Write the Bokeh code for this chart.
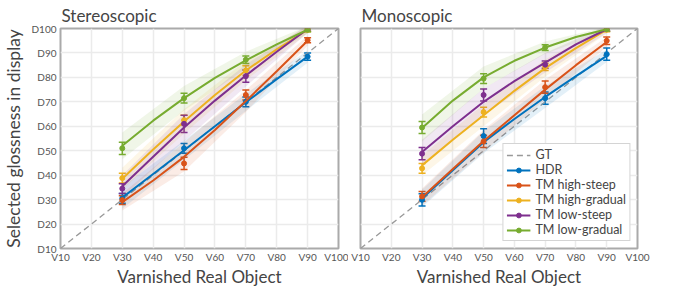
from bokeh.plotting import figure
from bokeh.layouts import row
from bokeh.models import (ColumnDataSource, Whisker, FixedTicker, Legend, LegendItem)
from bokeh.embed import file_html
from bokeh.resources import INLINE

# ---------------- data ----------------
x_pts = [30, 50, 70, 90]
x_fit = [30, 40, 50, 60, 70, 80, 90]
x_tick_vals = [10, 20, 30, 40, 50, 60, 70, 80, 90, 100]
x_tick_labels = ["V10", "V20", "V30", "V40", "V50", "V60", "V70", "V80", "V90", "V100"]
y_tick_labels = ["D10", "D20", "D30", "D40", "D50", "D60", "D70", "D80", "D90", "D100"]

series_names = ["HDR", "TM high-steep", "TM high-gradual", "TM low-steep", "TM low-gradual"]
series_colors = ["#0072BD", "#D95319", "#EDB120", "#7E2F8E", "#77AC30"]

# Stereoscopic
stereo_pts = {
    "HDR":             [30.5, 51.0, 70.0, 88.5],
    "TM high-steep":   [29.8, 44.8, 72.8, 95.2],
    "TM high-gradual": [38.8, 62.5, 82.8, 99.5],
    "TM low-steep":    [34.5, 61.0, 80.5, 99.8],
    "TM low-gradual":  [51.0, 71.5, 87.2, 99.5],
}
stereo_err = {
    "HDR":             [2.0, 2.0, 2.0, 1.5],
    "TM high-steep":   [1.8, 2.5, 2.0, 1.0],
    "TM high-gradual": [2.0, 2.0, 2.0, 0.8],
    "TM low-steep":    [2.0, 3.5, 2.5, 0.8],
    "TM low-gradual":  [2.5, 2.0, 1.5, 0.8],
}
stereo_fit = {
    "HDR":             [30.8, 40.5, 50.2, 60.0, 69.8, 79.3, 88.5],
    "TM high-steep":   [29.0, 37.8, 47.5, 58.5, 70.3, 82.5, 95.0],
    "TM high-gradual": [38.5, 50.5, 62.0, 72.8, 82.8, 91.5, 99.5],
    "TM low-steep":    [35.5, 47.5, 59.5, 70.5, 80.8, 90.5, 99.8],
    "TM low-gradual":  [52.0, 62.3, 71.5, 79.8, 87.0, 93.5, 99.5],
}
stereo_band = {
    "HDR":             [4.5, 4.0, 3.5, 2.5],
    "TM high-steep":   [3.5, 6.0, 4.5, 2.0],
    "TM high-gradual": [4.5, 5.0, 4.0, 1.5],
    "TM low-steep":    [4.5, 5.5, 4.5, 1.5],
    "TM low-gradual":  [5.5, 5.0, 3.5, 1.5],
}

# Monoscopic
mono_pts = {
    "HDR":             [29.9, 56.0, 71.5, 89.5],
    "TM high-steep":   [31.3, 53.8, 76.0, 95.0],
    "TM high-gradual": [42.8, 65.8, 84.3, 99.5],
    "TM low-steep":    [48.8, 72.8, 85.2, 99.8],
    "TM low-gradual":  [59.5, 79.5, 92.2, 99.7],
}
mono_err = {
    "HDR":             [2.5, 3.0, 2.5, 2.5],
    "TM high-steep":   [2.0, 2.5, 2.5, 1.5],
    "TM high-gradual": [2.0, 2.0, 1.5, 0.8],
    "TM low-steep":    [2.5, 2.5, 1.5, 0.8],
    "TM low-gradual":  [2.5, 2.0, 1.2, 0.8],
}
mono_fit = {
    "HDR":             [30.5, 42.0, 53.5, 63.0, 72.0, 80.5, 88.8],
    "TM high-steep":   [31.0, 42.5, 54.0, 64.5, 75.0, 85.0, 94.5],
    "TM high-gradual": [44.0, 54.5, 64.5, 74.5, 83.8, 92.0, 99.5],
    "TM low-steep":    [49.5, 60.0, 70.0, 78.5, 86.0, 93.5, 99.7],
    "TM low-gradual":  [59.3, 70.5, 80.0, 86.8, 92.2, 96.5, 99.7],
}
mono_band = {
    "HDR":             [3.5, 4.5, 4.5, 2.5],
    "TM high-steep":   [3.5, 4.5, 4.0, 2.0],
    "TM high-gradual": [4.0, 4.5, 3.5, 1.5],
    "TM low-steep":    [5.0, 5.5, 4.0, 1.5],
    "TM low-gradual":  [5.5, 4.5, 2.5, 1.0],
}

FONT = "Lato"
TXT = "#555555"


def make_panel(title, pts, err, fit, band, left, legend=False, fw=278, borders=(53, 10)):
    p = figure(frame_width=fw, frame_height=220, x_range=(10, 100), y_range=(10, 100),
               output_backend="svg", toolbar_location=None,
               min_border_left=borders[0], min_border_right=borders[1],
               min_border_top=22, min_border_bottom=34)
    p.title.text = title
    p.title.text_font = FONT
    p.title.text_font_size = "17px"
    p.title.text_font_style = "normal"
    p.title.text_color = "#444444"
    p.title.offset = 1
    p.title.standoff = 5
    p.outline_line_color = "#aaaaaa"
    p.outline_line_width = 2
    p.background_fill_color = "white"

    p.xaxis.ticker = FixedTicker(ticks=x_tick_vals)
    p.xaxis.major_label_overrides = {v: l for v, l in zip(x_tick_vals, x_tick_labels)}
    p.yaxis.ticker = FixedTicker(ticks=x_tick_vals)
    p.yaxis.major_label_overrides = {v: l for v, l in zip(x_tick_vals, y_tick_labels)}
    for ax in p.xaxis + p.yaxis:
        ax.axis_line_color = None
        ax.major_tick_line_color = None
        ax.minor_tick_line_color = None
        ax.major_tick_out = 0
        ax.major_tick_in = 0
        ax.minor_tick_out = 0
        ax.major_label_text_font = FONT
        ax.major_label_text_font_size = "10px"
        ax.major_label_text_color = TXT
        ax.axis_label_text_font = FONT
        ax.axis_label_text_font_size = "17.5px"
        ax.axis_label_text_font_style = "normal"
        ax.axis_label_text_color = "#444444"
    p.xaxis.axis_label = "Varnished Real Object"
    p.xaxis.axis_label_text_font_size = "17px"
    p.xaxis.major_label_standoff = 2
    p.xaxis.axis_label_standoff = 0
    if left:
        p.yaxis.axis_label = "Selected glossness in display"
        p.yaxis.major_label_standoff = 4
        p.yaxis.axis_label_standoff = 4
    else:
        p.yaxis.visible = False
    p.grid.grid_line_color = "#ebebeb"
    p.grid.grid_line_width = 1.5

    gt = p.line([10, 100], [10, 100], line_color="#999999", line_width=1.3, line_dash="6 4")
    items = [LegendItem(label="GT", renderers=[gt])]

    for name, col in zip(series_names, series_colors):
        lo = [f - b for f, b in zip(fit[name][0::2], band[name])]
        hi = [f + b for f, b in zip(fit[name][0::2], band[name])]
        p.varea(x=x_pts, y1=lo, y2=hi, fill_color=col, fill_alpha=0.11)
    for name, col in zip(series_names, series_colors):
        ln = p.line(x_fit, fit[name], line_color=col, line_width=2)
        src = ColumnDataSource(dict(x=x_pts, y=pts[name],
                                    lo=[v - e for v, e in zip(pts[name], err[name])],
                                    hi=[v + e for v, e in zip(pts[name], err[name])]))
        w = Whisker(source=src, base="x", upper="hi", lower="lo", line_color=col,
                    line_width=1.5, dimension="height")
        w.upper_head.line_color = col
        w.lower_head.line_color = col
        w.upper_head.size = 7
        w.lower_head.size = 7
        w.upper_head.line_width = 1.5
        w.lower_head.line_width = 1.5
        p.add_layout(w)
        sc = p.scatter("x", "y", source=src, size=5, color=col)
        items.append(LegendItem(label=name, renderers=[ln, sc]))

    if legend:
        lg = Legend(items=items, location="bottom_right")
        lg.label_text_font = FONT
        lg.label_text_font_size = "12.5px"
        lg.label_text_color = "#444444"
        lg.label_height = 12
        lg.label_text_line_height = 1.0
        lg.label_standoff = 5
        lg.glyph_width = 24
        lg.glyph_height = 12
        lg.spacing = 0
        lg.padding = 3
        lg.margin = 7
        lg.border_line_color = "#aaaaaa"
        lg.border_line_width = 1.5
        lg.background_fill_alpha = 1.0
        p.add_layout(lg)
    return p


p1 = make_panel("Stereoscopic", stereo_pts, stereo_err, stereo_fit, stereo_band, True,
                fw=278, borders=(53, 10))
p2 = make_panel("Monoscopic", mono_pts, mono_err, mono_fit, mono_band, False, legend=True,
                fw=277, borders=(12, 20))

layout = row(p1, p2)
open("out.html", "w").write(file_html(layout, INLINE))
